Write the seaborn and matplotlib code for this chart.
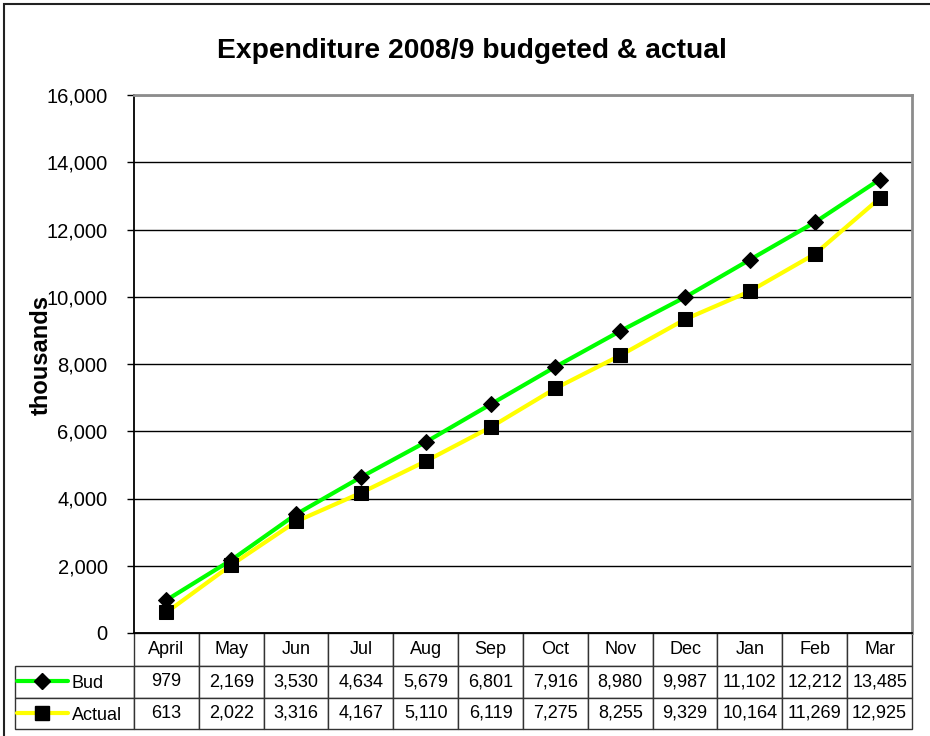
import matplotlib
matplotlib.use('Agg')  # no display

import pandas as pd
import seaborn as sns
import matplotlib.pyplot as plt
from matplotlib.table import Table
from matplotlib.patches import Rectangle

months = ["April", "May", "Jun", "Jul", "Aug", "Sep", "Oct", "Nov", "Dec", "Jan", "Feb", "Mar"]
bud = [979, 2169, 3530, 4634, 5679, 6801, 7916, 8980, 9987, 11102, 12212, 13485]
actual = [613, 2022, 3316, 4167, 5110, 6119, 7275, 8255, 9329, 10164, 11269, 12925]
yticks = [0, 2000, 4000, 6000, 8000, 10000, 12000, 14000, 16000]

sns.set_theme(style="white")
plt.rcParams['font.family'] = ['Liberation Sans', 'DejaVu Sans']
plt.rcParams['text.color'] = 'black'
plt.rcParams['axes.labelcolor'] = 'black'
plt.rcParams['ytick.color'] = 'black'
plt.rcParams['xtick.color'] = 'black'

df = pd.DataFrame({"month": months, "Bud": bud, "Actual": actual})

fig = plt.figure(figsize=(9.3, 7.36), dpi=100)
fig.patch.set_facecolor("white")
ax = fig.add_axes([134 / 930, 103 / 736, 778 / 930, 538 / 736])

sns.lineplot(data=df, x="month", y="Bud", ax=ax, color="#00ff00", lw=3,
             marker="D", markersize=8, markerfacecolor="black",
             markeredgecolor="black", sort=False, zorder=3)
sns.lineplot(data=df, x="month", y="Actual", ax=ax, color="#ffff00", lw=3,
             marker="s", markersize=10, markerfacecolor="black",
             markeredgecolor="black", sort=False, zorder=4)

ax.set_xlim(-0.5, len(months) - 0.5)
ax.set_ylim(0, 16000)
ax.set_yticks(yticks)
ax.set_yticklabels([f"{v:,}" for v in yticks], fontsize=14.5, color="black")
ax.tick_params(axis="y", direction="out", length=5, width=1, color="black", pad=14, left=True)
ax.set_xticks([])
ax.set_xlabel("")
ax.set_ylabel("thousands", fontsize=17, fontweight="bold", color="black")
ax.yaxis.set_label_coords(-0.105, 0.517)
ax.yaxis.grid(True, color="black", lw=1)
ax.set_axisbelow(True)

for s in ["top", "right"]:
    ax.spines[s].set_color("#8c8c8c")
    ax.spines[s].set_linewidth(2)
ax.spines["left"].set_color("black")
ax.spines["left"].set_linewidth(1.3)
ax.spines["bottom"].set_color("black")
ax.spines["bottom"].set_linewidth(1.3)
ax.spines["bottom"].set_zorder(5)

# data table under the plot
left_w = 119
col_w = 778 / 12
tbl = Table(ax, bbox=[-119 / 778, -96 / 538, 897 / 778, 96 / 538])
for j, m in enumerate(months):
    tbl.add_cell(0, j + 1, width=col_w, height=33, text=m, loc="center")
rows = [("Bud", bud), ("Actual", actual)]
for i, (name, vals) in enumerate(rows):
    tbl.add_cell(i + 1, 0, width=left_w, height=31.5, text="", loc="left")
    for j, v in enumerate(vals):
        tbl.add_cell(i + 1, j + 1, width=col_w, height=31.5, text=f"{v:,}", loc="center")
tbl.auto_set_font_size(False)
tbl.set_fontsize(13)
for (r, c), cell in tbl.get_celld().items():
    cell.set_edgecolor("#333333")
    cell.set_linewidth(1)
    cell.get_text().set_color("black")
    cell.PAD = 0.02
ax.add_table(tbl)

# legend keys inside the table's first column
keys = [("Bud", "#00ff00", "D", 8, -0.0901), ("Actual", "#ffff00", "s", 10, -0.1487)]
for name, col, mk, ms, yy in keys:
    ax.plot([-0.1504, -0.0848], [yy, yy], transform=ax.transAxes, color=col, lw=3, clip_on=False)
    ax.plot([-0.1183], [yy], transform=ax.transAxes, marker=mk, ms=ms, color="black", clip_on=False)
    ax.text(-0.080, yy - 0.004, name, transform=ax.transAxes, ha="left", va="center",
            fontsize=13, color="black")

fig.text(472 / 930, 1 - 51 / 736, "Expenditure 2008/9 budgeted & actual",
         ha="center", va="center", fontsize=20.3, fontweight="bold", color="black")

fig.add_artist(Rectangle((4 / 930, -0.05), 1.1, 1 - 4 / 736 + 0.05,
                         transform=fig.transFigure, fill=False, ec="#222222", lw=1.5))

fig.savefig("out.png", dpi=100)
plt.close(fig)
